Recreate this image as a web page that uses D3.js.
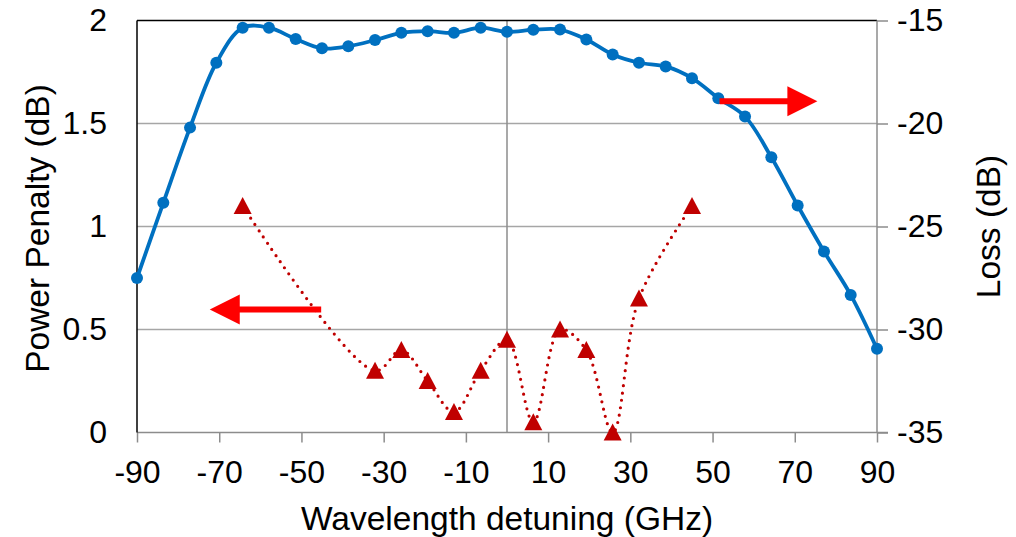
<!DOCTYPE html>
<html>
<head>
<meta charset="utf-8">
<script src="https://cdn.jsdelivr.net/npm/d3@7"></script>
<style>
  body { margin: 0; background: #fff; }
  text { font-family: "Liberation Sans", Arial, sans-serif; fill: #000; }
</style>
</head>
<body>
<div id="chart"></div>
<script>
var svgWidth = 1016;
var svgHeight = 537;

var margin = { top: 20.5, right: 139, bottom: 104.5, left: 137 };
var width = svgWidth - margin.left - margin.right;
var height = svgHeight - margin.top - margin.bottom;

// detuning values (GHz), 29 equally spaced points
var detuning = [-90, -83.6, -77.1, -70.7, -64.3, -57.9, -51.4, -45, -38.6, -32.1,
  -25.7, -19.3, -12.9, -6.4, 0, 6.4, 12.9, 19.3, 25.7, 32.1,
  38.6, 45, 51.4, 57.9, 64.3, 70.7, 77.1, 83.6, 90];

// loss (dB), right axis
var loss = [-27.5, -23.85, -20.2, -17.05, -15.35, -15.35, -15.9, -16.35, -16.25, -15.95,
  -15.6, -15.52, -15.6, -15.35, -15.55, -15.45, -15.44, -15.92, -16.65, -17.05,
  -17.23, -17.8, -18.77, -19.66, -21.64, -23.98, -26.21, -28.32, -30.94];

// power penalty (dB), left axis
var ppDetuning = [-64.3, -32.1, -25.7, -19.3, -12.9, -6.4, 0, 6.4, 12.9, 19.3, 25.7, 32.1, 45];
var penalty = [1.1, 0.3, 0.4, 0.25, 0.1, 0.3, 0.45, 0.05, 0.5, 0.4, 0, 0.65, 1.1];

var xTicks = [-90, -70, -50, -30, -10, 10, 30, 50, 70, 90];
var leftTicks = [0, 0.5, 1, 1.5, 2];
var rightTicks = [-35, -30, -25, -20, -15];

var svg = d3.select("#chart")
  .append("svg")
  .attr("width", svgWidth)
  .attr("height", svgHeight);

var chartGroup = svg.append("g")
  .attr("transform", `translate(${margin.left}, ${margin.top})`);

var xScale = d3.scaleLinear().domain([-90, 90]).range([0, width]);
var yLeft = d3.scaleLinear().domain([0, 2]).range([height, 0]);
var yRight = d3.scaleLinear().domain([-35, -15]).range([height, 0]);

// horizontal gridlines
chartGroup.selectAll(".grid")
  .data(leftTicks.slice(1, 4))
  .enter()
  .append("line")
  .attr("x1", 0)
  .attr("x2", width)
  .attr("y1", d => yLeft(d))
  .attr("y2", d => yLeft(d))
  .attr("stroke", "#a6a6a6")
  .attr("stroke-width", 1.5);

// vertical line at zero detuning
chartGroup.append("line")
  .attr("x1", xScale(0))
  .attr("x2", xScale(0))
  .attr("y1", 0)
  .attr("y2", height)
  .attr("stroke", "#8c8c8c")
  .attr("stroke-width", 1.5);

// bottom axis
var bottomAxis = d3.axisBottom(xScale)
  .tickValues(xTicks)
  .tickSize(10)
  .tickPadding(18)
  .tickFormat(d => String(d));

var xAxis = chartGroup.append("g")
  .attr("transform", `translate(0, ${height})`)
  .call(bottomAxis);
xAxis.select(".domain").remove();
xAxis.append("line")
  .attr("x1", 0).attr("x2", width + 11)
  .attr("stroke", "#8c8c8c").attr("stroke-width", 1.5);
xAxis.selectAll(".tick line").attr("stroke", "#8c8c8c").attr("stroke-width", 1.5);
xAxis.selectAll(".tick text").style("font-size", "32px").attr("fill", "#000");

// left axis
var leftAxis = d3.axisLeft(yLeft)
  .tickValues(leftTicks)
  .tickSize(0)
  .tickPadding(30)
  .tickFormat(d => String(d));

var yAxisL = chartGroup.append("g").call(leftAxis);
yAxisL.select(".domain").remove();
yAxisL.selectAll(".tick text").style("font-size", "32px").attr("fill", "#000");
yAxisL.append("line")
  .attr("x1", 0).attr("x2", 0).attr("y1", 0).attr("y2", height)
  .attr("stroke", "#000").attr("stroke-width", 1.5);

// top border
chartGroup.append("line")
  .attr("x1", 0).attr("x2", width).attr("y1", 0).attr("y2", 0)
  .attr("stroke", "#000").attr("stroke-width", 1.5);

// right axis
var rightAxis = d3.axisRight(yRight)
  .tickValues(rightTicks)
  .tickSize(11)
  .tickPadding(9)
  .tickFormat(d => String(d));

var yAxisR = chartGroup.append("g")
  .attr("transform", `translate(${width}, 0)`)
  .call(rightAxis);
yAxisR.select(".domain").remove();
yAxisR.append("line")
  .attr("x1", 0).attr("x2", 0).attr("y1", 0).attr("y2", height)
  .attr("stroke", "#8c8c8c").attr("stroke-width", 1.5);
yAxisR.selectAll(".tick line").attr("stroke", "#8c8c8c").attr("stroke-width", 1.5);
yAxisR.selectAll(".tick text").style("font-size", "32px").attr("fill", "#000");

// axis titles
svg.append("text")
  .attr("x", margin.left + width / 2)
  .attr("y", 530)
  .attr("text-anchor", "middle")
  .style("font-size", "33.5px")
  .text("Wavelength detuning (GHz)");

svg.append("text")
  .attr("transform", `translate(49, ${margin.top + height / 2 + 2}) rotate(-90)`)
  .attr("text-anchor", "middle")
  .style("font-size", "33.5px")
  .text("Power Penalty (dB)");

svg.append("text")
  .attr("transform", `translate(1000, ${margin.top + height / 2}) rotate(-90)`)
  .attr("text-anchor", "middle")
  .style("font-size", "33.5px")
  .text("Loss (dB)");

// loss line
var lossData = detuning.map((d, i) => ({ x: d, y: loss[i] }));
var lossLine = d3.line()
  .x(d => xScale(d.x))
  .y(d => yRight(d.y))
  .curve(d3.curveCatmullRom);

chartGroup.append("path")
  .datum(lossData)
  .attr("d", lossLine)
  .attr("fill", "none")
  .attr("stroke", "#0070c0")
  .attr("stroke-width", 3.8);

chartGroup.selectAll(".lossDot")
  .data(lossData)
  .enter()
  .append("circle")
  .attr("cx", d => xScale(d.x))
  .attr("cy", d => yRight(d.y))
  .attr("r", 6)
  .attr("fill", "#0070c0");

// power penalty line
var ppData = ppDetuning.map((d, i) => ({ x: d, y: penalty[i] }));
var ppLine = d3.line()
  .x(d => xScale(d.x))
  .y(d => yLeft(d.y))
  .curve(d3.curveCatmullRom);

chartGroup.append("path")
  .datum(ppData)
  .attr("d", ppLine)
  .attr("fill", "none")
  .attr("stroke", "#c00000")
  .attr("stroke-width", 3.2)
  .attr("stroke-linecap", "round")
  .attr("stroke-dasharray", "0,7.5");

chartGroup.selectAll(".ppTri")
  .data(ppData)
  .enter()
  .append("path")
  .attr("transform", d => `translate(${xScale(d.x)}, ${yLeft(d.y)})`)
  .attr("d", "M0,-9L9,8L-9,8Z")
  .attr("fill", "#c00000");

// arrows pointing to the axes
function arrow(x1, x2, y) {
  var dir = x2 > x1 ? 1 : -1;
  var g = chartGroup.append("g");
  g.append("line")
    .attr("x1", x1).attr("x2", x2 - dir * 28)
    .attr("y1", y).attr("y2", y)
    .attr("stroke", "#ff0000").attr("stroke-width", 6);
  g.append("path")
    .attr("d", `M${x2},${y}L${x2 - dir * 30},${y - 15}L${x2 - dir * 30},${y + 15}Z`)
    .attr("fill", "#ff0000");
}
arrow(xScale(-45.2), xScale(-72.3), yLeft(0.597));
arrow(xScale(51.7), xScale(75.5), yRight(-18.92));
</script>
</body>
</html>
